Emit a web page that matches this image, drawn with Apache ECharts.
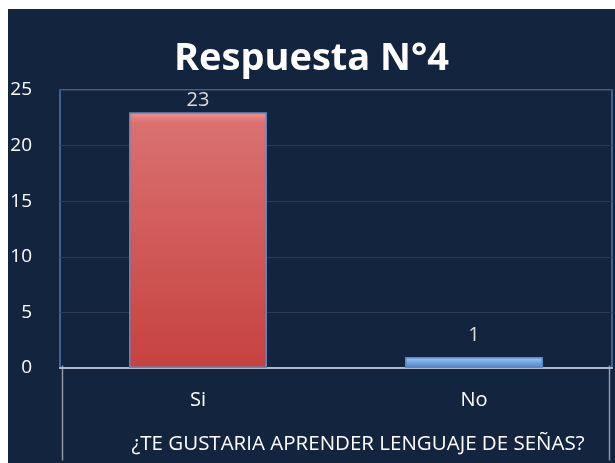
<!DOCTYPE html>
<html>
<head>
<meta charset="utf-8">
<script src="https://cdn.jsdelivr.net/npm/echarts@6/dist/echarts.min.js"></script>
<style>
  html, body { margin: 0; padding: 0; background: #ffffff; }
  #main { position: absolute; left: 8px; top: 9px; width: 607px; height: 454px; }
</style>
</head>
<body>
<div id="main"></div>
<script>
// datos de la grafica
var categorias = ['Si', 'No'];
var respuestas = [23, 1];
var titulo = 'Respuesta N°4';
var pregunta = '¿TE GUSTARIA APRENDER LENGUAJE DE SEÑAS?';

var myChart = echarts.init(document.getElementById('main'));

var rojo = new echarts.graphic.LinearGradient(0, 0, 0, 1, [
    { offset: 0, color: '#f09090' },
    { offset: 0.04, color: '#da7070' },
    { offset: 1, color: '#c6423f' }
]);
var azul = new echarts.graphic.LinearGradient(0, 0, 0, 1, [
    { offset: 0, color: '#a8ccf6' },
    { offset: 0.5, color: '#74a6e2' },
    { offset: 1, color: '#4a7fc4' }
]);

function serieBarras(valores) {
    var datos = [];
    for (var i = 0; i < valores.length; i++) {
        datos.push({
            value: valores[i],
            itemStyle: { color: i === 0 ? rojo : azul },
            label: { distance: i === 0 ? 2 : 12 }
        });
    }
    return datos;
}

var option = {
    backgroundColor: '#13243f',
    animation: false,
    title: {
        text: titulo,
        left: 'center',
        top: 26,
        textStyle: {
            color: '#ffffff',
            fontFamily: 'Open Sans',
            fontWeight: 'bold',
            fontSize: 38
        }
    },
    grid: {
        left: 52,
        right: 3,
        top: 81,
        bottom: 95,
        outerBoundsMode: 'none',
        show: true,
        borderColor: '#4a78b0',
        borderWidth: 1.5
    },
    graphic: [
        {
            type: 'line',
            left: 52,
            bottom: 0,
            shape: { x1: 0, y1: 0, x2: 0, y2: 95 },
            style: { stroke: '#8c97a6', lineWidth: 1.5 }
        },
        {
            type: 'line',
            right: 3,
            bottom: 0,
            shape: { x1: 0, y1: 0, x2: 0, y2: 95 },
            style: { stroke: '#8c97a6', lineWidth: 1.5 }
        }
    ],
    xAxis: {
        type: 'category',
        data: categorias,
        name: pregunta,
        nameLocation: 'middle',
        nameGap: 66,
        nameTextStyle: {
            color: '#ffffff',
            fontSize: 20.5,
            fontFamily: 'Open Sans',
            padding: [0, 0, 0, 44]
        },
        axisLine: { lineStyle: { color: '#aebbd0', width: 2 } },
        axisTick: { show: false },
        axisLabel: { color: '#ffffff', fontSize: 20, margin: 22, fontFamily: 'Open Sans' }
    },
    yAxis: {
        type: 'value',
        min: 0,
        max: 25,
        interval: 5,
        axisLine: { show: false },
        axisTick: { show: false },
        axisLabel: { color: '#ffffff', fontSize: 19, margin: 28, fontFamily: 'Open Sans' },
        splitLine: { lineStyle: { color: '#2c3c56', width: 1 } }
    },
    series: [
        {
            type: 'bar',
            barWidth: '50%',
            data: serieBarras(respuestas),
            itemStyle: { borderColor: '#5d86c4', borderWidth: 1.5 },
            label: {
                show: true,
                position: 'top',
                color: '#dcdcdc',
                fontSize: 20,
                fontFamily: 'Open Sans'
            }
        }
    ]
};
myChart.setOption(option);
</script>
</body>
</html>
